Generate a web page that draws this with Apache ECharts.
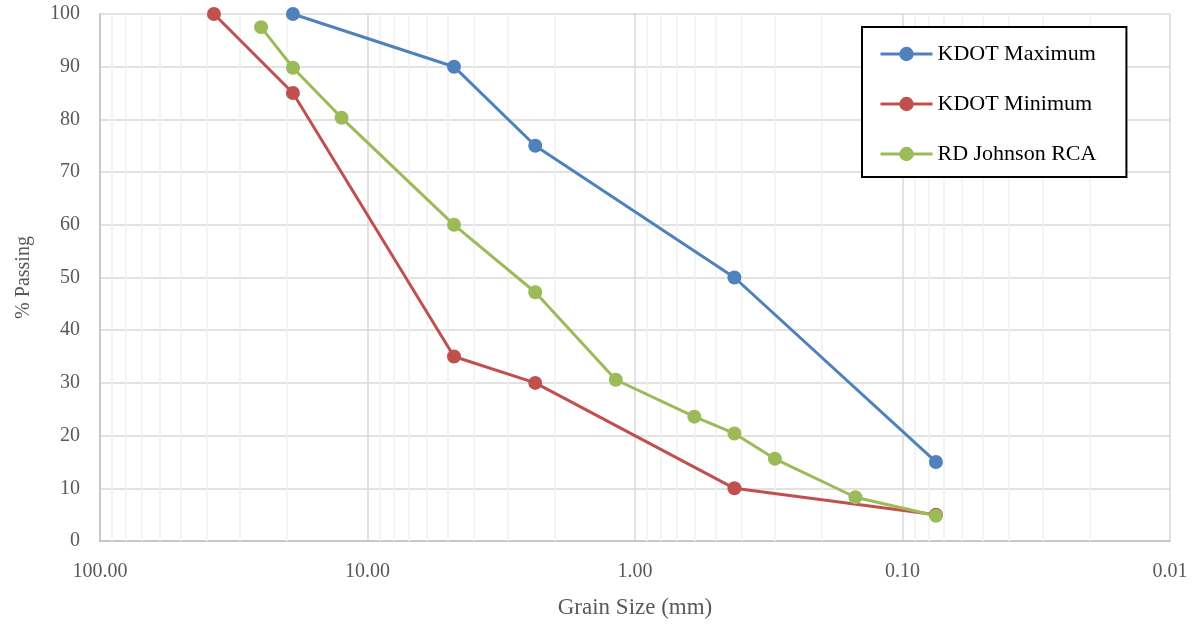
<!DOCTYPE html>
<html>
<head>
<meta charset="utf-8">
<script src="https://cdn.jsdelivr.net/npm/echarts@6/dist/echarts.min.js"></script>
<style>
  html, body { margin: 0; padding: 0; background: #fff; }
  #chart { width: 1199px; height: 626px; }
</style>
</head>
<body>
<div id="chart"></div>
<script>
// grain size (mm) and % passing
var maxSizes = [19, 4.75, 2.36, 0.425, 0.075];
var maxPassing = [100, 90, 75, 50, 15];

var minSizes = [37.5, 19, 4.75, 2.36, 0.425, 0.075];
var minPassing = [100, 85, 35, 30, 10, 5];

var rcaSizes = [25, 19, 12.5, 4.75, 2.36, 1.18, 0.6, 0.425, 0.3, 0.15, 0.075];
var rcaPassing = [97.5, 89.8, 80.3, 60, 47.2, 30.6, 23.6, 20.4, 15.6, 8.3, 4.8];

// minor log gridlines (2..9 in each decade)
var minorTicks = [
    20, 30, 40, 50, 60, 70, 80, 90,
    2, 3, 4, 5, 6, 7, 8, 9,
    0.2, 0.3, 0.4, 0.5, 0.6, 0.7, 0.8, 0.9,
    0.02, 0.03, 0.04, 0.05, 0.06, 0.07, 0.08, 0.09
];

function pairs(xs, ys) {
    return xs.map(function(x, i) { return [x, ys[i]] });
}

var font = '"Liberation Serif", "Times New Roman", serif';

function lineSeries(name, color, xs, ys) {
    return {
        name: name,
        type: 'line',
        data: pairs(xs, ys),
        symbol: 'circle',
        symbolSize: 14,
        z: 3,
        lineStyle: { color: color, width: 3 },
        itemStyle: { color: color },
        emphasis: { disabled: true }
    }
}

var chart = echarts.init(document.getElementById('chart'));

chart.setOption({
    animation: false,
    textStyle: { fontFamily: font },
    grid: { left: 100, right: 29, top: 14, bottom: 85 },
    legend: {
        orient: 'vertical',
        left: 862,
        top: 27,
        padding: [16, 30, 12, 17],
        itemWidth: 52,
        itemHeight: 18,
        itemGap: 28,
        borderColor: '#000',
        borderWidth: 2,
        backgroundColor: '#fff',
        lineStyle: { width: 3 },
        textStyle: { fontFamily: font, fontSize: 22, color: '#000' },
        data: ['KDOT Maximum', 'KDOT Minimum', 'RD Johnson RCA']
    },
    xAxis: {
        type: 'log',
        logBase: 10,
        min: 0.01,
        max: 100,
        interval: 1,
        inverse: true,
        name: 'Grain Size (mm)',
        nameLocation: 'middle',
        nameGap: 55,
        nameTextStyle: { fontFamily: font, fontSize: 23, color: '#595959' },
        axisLine: { lineStyle: { color: '#bfbfbf', width: 1.5 } },
        axisTick: { show: false },
        axisLabel: {
            margin: 21,
            fontFamily: font,
            fontSize: 20,
            color: '#595959',
            formatter: function(v) { return v.toFixed(2) }
        },
        splitLine: { show: true, lineStyle: { color: '#d9d9d9', width: 1.5 } }
    },
    yAxis: {
        type: 'value',
        min: 0,
        max: 100,
        interval: 10,
        name: '% Passing',
        nameLocation: 'middle',
        nameGap: 66,
        nameTextStyle: { fontFamily: font, fontSize: 20, color: '#595959' },
        axisLine: { show: true, lineStyle: { color: '#bfbfbf', width: 1.5 } },
        axisTick: { show: false },
        axisLabel: { margin: 20, fontFamily: font, fontSize: 20, color: '#595959' },
        splitLine: { lineStyle: { color: '#d9d9d9', width: 1.5 } }
    },
    series: [
        {
            name: 'minor grid',
            type: 'line',
            data: [],
            silent: true,
            z: 1,
            markLine: {
                silent: true,
                z: 1,
                symbol: 'none',
                label: { show: false },
                emphasis: { disabled: true },
                lineStyle: { type: 'solid', color: '#f0f0f0', width: 1.5 },
                data: minorTicks.map(function(v) { return { xAxis: v } })
            }
        },
        lineSeries('KDOT Maximum', '#4f81bd', maxSizes, maxPassing),
        lineSeries('KDOT Minimum', '#c0504d', minSizes, minPassing),
        lineSeries('RD Johnson RCA', '#9bbb59', rcaSizes, rcaPassing)
    ]
});
</script>
</body>
</html>
